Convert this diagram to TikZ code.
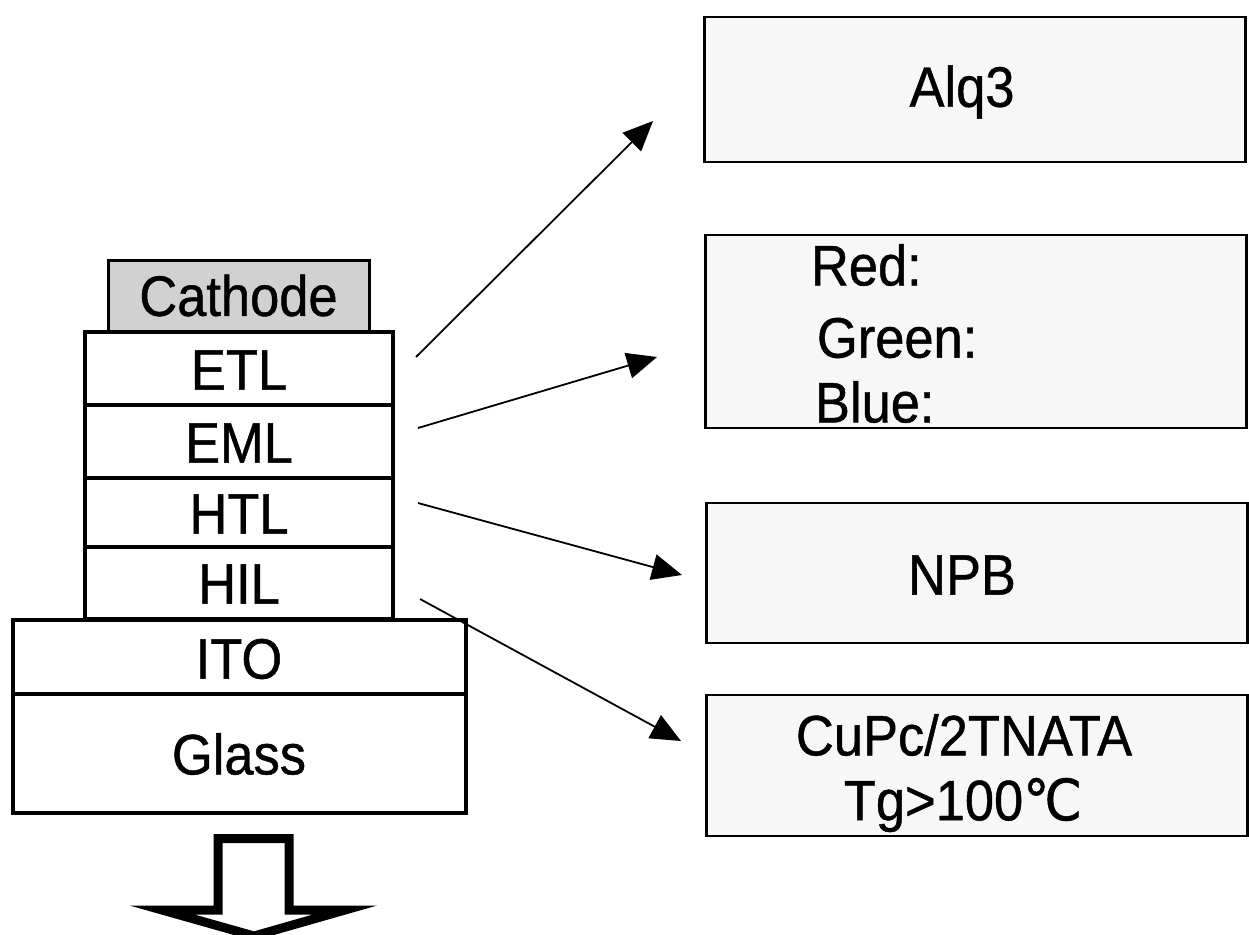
\documentclass[tikz,border=0pt]{standalone}
\usepackage{fontspec}
\setmainfont{Liberation Sans}[FakeStretch=0.92,FakeBold=0.8]
\newfontfamily\symfont{DejaVu Sans}[FakeStretch=0.92,FakeBold=0.8]
\usetikzlibrary{arrows.meta}
\begin{document}
\begin{tikzpicture}[x=1pt,y=-1pt,
  every node/.style={font=\fontsize{57}{64}\selectfont, inner sep=0pt, outer sep=0pt},
  layer/.style={draw=black, line width=3.5pt, fill=white, anchor=center},
  cathodebox/.style={draw=black, line width=3pt, fill=black!18},
  matbox/.style={draw=black, line width=2.6pt, fill=black!3, minimum width=541pt},
  conn/.style={draw=black, line width=1.8pt, -{Triangle[length=30pt,width=26pt]}},
  bigarrow/.style={draw=black, line width=9pt, line join=miter, fill=white}]
\useasboundingbox (0,0) rectangle (1249,934);

% device stack
\node[cathodebox, minimum width=261pt, minimum height=71pt] (cathode) at (238.5,295.5) {Cathode};
\node[layer, minimum width=308pt, minimum height=73pt] (etl) at (239,368.5) {};
\node[layer, minimum width=308pt, minimum height=73pt] (eml) at (239,441.5) {};
\node[layer, minimum width=308pt, minimum height=69pt] (htl) at (239,512.5) {};
\node[layer, minimum width=308pt, minimum height=72pt] (hil) at (239,583) {};
\node[layer, minimum width=453pt, minimum height=74pt] (ito) at (239.5,657) {};
\node[layer, minimum width=453pt, minimum height=119pt] (glass) at (239.5,753.5) {};
\node (etlt) at (239,370) {ETL};
\node (emlt) at (239,443) {EML};
\node (htlt) at (239,514) {HTL};
\node (hilt) at (239,584) {HIL};
\node (itot) at (239,659) {ITO};
\node (glasst) at (239,754) {Glass};

% material boxes
\node[matbox, minimum height=145pt] (alqbox) at (975,89.5) {};
\node[matbox, minimum height=193pt] (rgbbox) at (976,331.5) {};
\node[matbox, minimum height=140pt] (npbbox) at (977,573) {};
\node[matbox, minimum height=141pt] (cupcbox) at (977,765.5) {};
\node (alqt) at (962,92) {Alq3};
\node[anchor=west] (redt) at (811,265) {Red:};
\node[anchor=west] (greent) at (817,338) {Green:};
\node[anchor=west] (bluet) at (815,402) {Blue:};
\node (npbt) at (962,575) {NPB};
\node (cupct) at (964,735) {CuPc/2TNATA};
\node (tgt) at (963,805) {Tg>100{\symfont ℃}};

% connectors
\coordinate (s1) at (416,357);
\coordinate (e1) at (653,121);
\coordinate (s2) at (418,428);
\coordinate (e2) at (657,357);
\coordinate (s3) at (418,503);
\coordinate (e3) at (682,575);
\coordinate (s4) at (420,599);
\coordinate (e4) at (681,741);
\draw[conn] (s1) -- (e1);
\draw[conn] (s2) -- (e2);
\draw[conn] (s3) -- (e3);
\draw[conn] (s4) -- (e4);

% light output arrow
\draw[bigarrow] (218,838.5) -- (289,838.5) -- (289,910) -- (345,910) -- (254,936) -- (162,910) -- (218,910) -- cycle;
\end{tikzpicture}
\end{document}
